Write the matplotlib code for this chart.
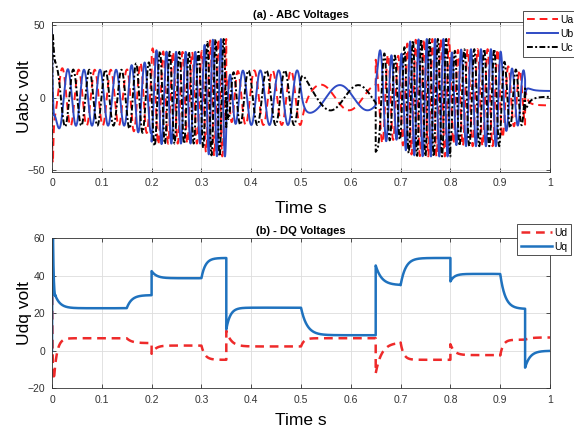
import numpy as np
import matplotlib
matplotlib.use("Agg")
import matplotlib.pyplot as plt

plt.rcParams['font.family'] = ['Liberation Sans', 'DejaVu Sans']

# d/q voltage segments: switching time, value right after the switch,
# settled value and time constant of the transition
ud_t0 = [0.0, 0.004, 0.15, 0.2, 0.3, 0.35, 0.5, 0.65, 0.7, 0.8, 0.9, 0.95]
ud_start = [60, -15, 6.7, -1.6, 2.8, 10.7, 2.3, -12, 4.4, 3.5, -2.5, 5.9]
ud_end = [-16, 6.7, 4.1, 2.8, -4.8, 2.3, 6.7, 4.4, -4.8, -2.3, 5.9, 7.1]
ud_tau = [0.0008, 0.006, 0.01, 0.008, 0.007, 0.01, 0.006, 0.012, 0.006, 0.008, 0.006, 0.01]

uq_t0 = [0.0, 0.002, 0.006, 0.15, 0.2, 0.3, 0.35, 0.5, 0.65, 0.7, 0.8, 0.9, 0.95]
uq_start = [0, 61, 30, 22.7, 42.5, 38.7, 11.5, 23, 45.5, 35, 37, 41, -9]
uq_end = [64, 27, 22.7, 29.7, 38.7, 49.5, 23, 8.3, 35, 49.5, 41, 22.3, 0]
uq_tau = [0.0006, 0.0015, 0.01, 0.01, 0.01, 0.008, 0.008, 0.012, 0.012, 0.01, 0.008, 0.01, 0.01]

# electrical frequency (Hz) targets for each speed step
f_t0 = [0.0, 0.15, 0.2, 0.3, 0.35, 0.5, 0.65, 0.7, 0.8, 0.9, 0.95]
f_target = [31, 40, 52, 62, 27, 9, 50, 60, 50, 43, 0]
f_tau = [0.005, 0.015, 0.01, 0.01, 0.015, 0.01, 0.008, 0.01, 0.01, 0.015, 0.004]

# phase b reaches its crest here during the low-speed interval
b_peak_time = 0.578

x_ticks = [0, 0.1, 0.2, 0.3, 0.4, 0.5, 0.6, 0.7, 0.8, 0.9, 1]
x_ticklabels = ['0', '0.1', '0.2', '0.3', '0.4', '0.5', '0.6', '0.7', '0.8', '0.9', '1']

t = np.linspace(0, 1, 100001)
dt = t[1] - t[0]


def steps(t, t0, start, end, tau):
    out = np.zeros_like(t)
    bounds = list(t0) + [np.inf]
    for i in range(len(t0)):
        m = (t >= bounds[i]) & (t < bounds[i + 1])
        out[m] = end[i] + (start[i] - end[i]) * np.exp(-(t[m] - t0[i]) / tau[i])
    out[-1] = out[-2]
    return out


ud = steps(t, ud_t0, ud_start, ud_end, ud_tau)
uq = steps(t, uq_t0, uq_start, uq_end, uq_tau)

# frequency follows each target continuously
freq = np.zeros_like(t)
bounds = f_t0 + [np.inf]
f_now = 0.0
for i in range(len(f_t0)):
    m = (t >= bounds[i]) & (t < bounds[i + 1])
    freq[m] = f_target[i] + (f_now - f_target[i]) * np.exp(-(t[m] - f_t0[i]) / f_tau[i])
    if m.any():
        f_now = freq[m][-1]
freq[-1] = freq[-2]
theta = 2 * np.pi * np.cumsum(freq) * dt

# rotor angle offset: phase b crest at b_peak_time
i_pk = np.searchsorted(t, b_peak_time)
alpha = np.arctan2(uq[i_pk], ud[i_pk])
theta += (2 * np.pi / 3 - alpha) - theta[i_pk]

# inverse Park transform
k = np.sqrt(2 / 3)
ua = k * (ud * np.cos(theta) - uq * np.sin(theta))
ub = k * (ud * np.cos(theta - 2 * np.pi / 3) - uq * np.sin(theta - 2 * np.pi / 3))
uc = k * (ud * np.cos(theta + 2 * np.pi / 3) - uq * np.sin(theta + 2 * np.pi / 3))

fig = plt.figure(figsize=(5.74, 4.32), dpi=100)
ax1 = fig.add_axes([0.0906, 0.603, 0.8676, 0.345])
ax2 = fig.add_axes([0.0906, 0.1012, 0.8676, 0.3472])

ax1.plot(t, ua, color='#ff1a1a', lw=1.4, ls=(0, (4, 2.5)), label='Ua')
ax1.plot(t, ub, color='#2f4bc4', lw=1.4, label='Ub')
ax1.plot(t, uc, color='black', lw=1.4, ls=(0, (3, 1.2, 1, 1.2)), label='Uc')
ax1.set_ylim(-51, 52)
ax1.set_yticks([-50, 0, 50])
ax1.set_title('(a) - ABC Voltages', fontsize=8, fontweight='bold', pad=3)
ax1.set_ylabel('Uabc volt', fontsize=12.5)

ax2.plot(t, ud, color='#ee2a2a', lw=1.8, ls=(0, (3.5, 2.3)), label='Ud')
ax2.plot(t, uq, color='#1f72be', lw=1.8, label='Uq')
ax2.set_ylim(-20, 60)
ax2.set_yticks([-20, 0, 20, 40, 60])
ax2.set_title('(b) - DQ Voltages', fontsize=8, fontweight='bold', pad=3)
ax2.set_ylabel('Udq volt', fontsize=12.5)

for ax in (ax1, ax2):
    ax.set_xlim(0, 1)
    ax.set_xticks(x_ticks)
    ax.set_xticklabels(x_ticklabels)
    ax.set_xlabel('Time s', fontsize=12.5)
    ax.grid(True, color='#dddddd', lw=0.6)
    ax.tick_params(direction='in', length=3, width=0.6, labelsize=7.5,
                   colors='#333333', top=True, right=True, pad=5)
    for s in ax.spines.values():
        s.set_color('#333333')
        s.set_linewidth(0.6)
    ax.yaxis.set_label_coords(-0.04, 0.5)

ax1.xaxis.set_label_coords(0.5, -0.195)
ax2.xaxis.set_label_coords(0.5, -0.165)

leg_kw = dict(loc='upper left', borderaxespad=0, fontsize=7.5, handlelength=3.0,
              handletextpad=0.25, labelspacing=0.4, borderpad=0.35, fancybox=False,
              framealpha=1, edgecolor='#333333')
l1 = fig.legend(handles=ax1.get_lines(), bbox_to_anchor=(523 / 574, 1 - 11 / 432), **leg_kw)
l2 = fig.legend(handles=ax2.get_lines(), bbox_to_anchor=(517 / 574, 1 - 224 / 432), **leg_kw)
for lg in (l1, l2):
    lg.get_frame().set_linewidth(0.6)

fig.savefig('out.png', dpi=100)
